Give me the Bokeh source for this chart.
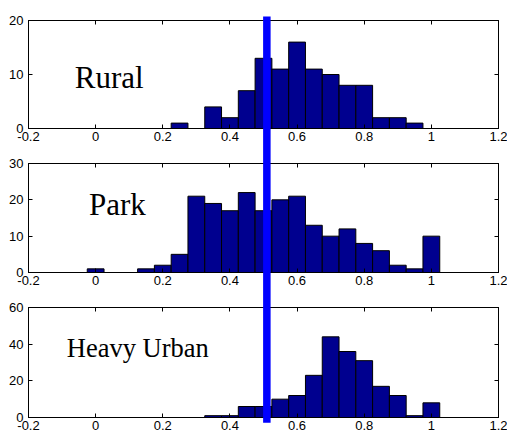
from bokeh.plotting import figure
from bokeh.layouts import column
from bokeh.models import Range1d, FixedTicker, LinearAxis, CustomJSTickFormatter
from bokeh.core.properties import value
from bokeh.embed import file_html
from bokeh.resources import INLINE

# ---------------- data ----------------
bin_width = 0.05

rural_centers = [0.25, 0.35, 0.40, 0.45, 0.50, 0.55, 0.60, 0.65, 0.70, 0.75, 0.80, 0.85, 0.90, 0.95]
rural_counts = [1, 4, 2, 7, 13, 11, 16, 11, 10, 8, 8, 2, 2, 1]

park_centers = [0.00, 0.15, 0.20, 0.25, 0.30, 0.35, 0.40, 0.45, 0.50, 0.55, 0.60, 0.65, 0.70, 0.75,
                0.80, 0.85, 0.90, 0.95, 1.00]
park_counts = [1, 1, 2, 5, 21, 19, 17, 22, 17, 20, 21, 13, 10, 12, 8, 6, 2, 1, 10]

urban_centers = [0.35, 0.40, 0.45, 0.50, 0.55, 0.60, 0.65, 0.70, 0.75, 0.80, 0.85, 0.90, 0.95, 1.00]
urban_counts = [1, 1, 6, 6, 10, 12, 23, 44, 36, 31, 17, 12, 1, 8]

x_ticks = [-0.2, 0.0, 0.2, 0.4, 0.6, 0.8, 1.0, 1.2]
x_tick_labels = ["-0.2", "0", "0.2", "0.4", "0.6", "0.8", "1", "1.2"]

rural_y_ticks = [0, 10, 20]
park_y_ticks = [0, 10, 20, 30]
urban_y_ticks = [0, 20, 40, 60]

panel_names = ["Rural", "Park", "Heavy Urban"]
threshold = 0.51

BAR_COLOR = "#00008F"
TICK_FONT = "Liberation Sans"
TICK_SIZE = "13px"

xfmt_code = """
const i = vals.findIndex(t => Math.abs(t - tick) < 1e-9);
return i >= 0 ? labs[i] : '';
"""


def style_axis(ax, show_labels=True):
    ax.axis_line_color = "black"
    ax.axis_line_width = 1
    ax.major_tick_line_color = "black"
    ax.major_tick_in = 4
    ax.major_tick_out = 0
    ax.minor_tick_line_color = None
    ax.major_label_text_font = TICK_FONT
    ax.major_label_text_font_size = TICK_SIZE
    ax.major_label_text_color = "black"
    if not show_labels:
        ax.major_label_text_font_size = "0px"
        ax.major_label_standoff = 0


def make_panel(centers, counts, yticks, name, lx, ly, fsize, height, btop, bbottom, ly0, ly1):
    p = figure(width=507, height=height, output_backend="svg", toolbar_location=None,
               x_range=Range1d(-0.2, 1.2), y_range=Range1d(yticks[0], yticks[-1]),
               min_border_left=28, min_border_right=9, min_border_top=btop,
               min_border_bottom=bbottom)
    p.grid.visible = False
    p.outline_line_color = "black"
    p.outline_line_alpha = 1
    p.background_fill_color = "white"
    p.border_fill_color = "white"

    left = [c - bin_width / 2 for c in centers]
    right = [c + bin_width / 2 for c in centers]
    p.quad(left=left, right=right, bottom=0, top=counts,
           fill_color=BAR_COLOR, line_color="black", line_width=1)

    p.text(x=[lx], y=[ly], text=[name], text_font=value("Liberation Serif"),
           text_font_size=value(fsize), text_color="black",
           text_align="left", text_baseline="alphabetic")

    xfmt = CustomJSTickFormatter(args=dict(vals=x_ticks, labs=x_tick_labels), code=xfmt_code)
    p.xaxis.ticker = FixedTicker(ticks=x_ticks)
    p.xaxis.formatter = xfmt
    p.yaxis.ticker = FixedTicker(ticks=yticks)
    for ax in p.xaxis:
        style_axis(ax)
        ax.major_label_standoff = 3
    for ax in p.yaxis:
        style_axis(ax)
        ax.major_label_standoff = 5

    top_ax = LinearAxis(ticker=FixedTicker(ticks=x_ticks),
                        formatter=CustomJSTickFormatter(code="return '';"))
    style_axis(top_ax, show_labels=False)
    p.add_layout(top_ax, "above")
    right_ax = LinearAxis(ticker=FixedTicker(ticks=yticks),
                          formatter=CustomJSTickFormatter(code="return '';"))
    style_axis(right_ax, show_labels=False)
    p.add_layout(right_ax, "right")

    seg = p.segment(x0=[threshold], y0=[ly0], x1=[threshold], y1=[ly1],
                    line_color="#0000FF", line_width=7.5, line_cap="butt")
    seg.level = "overlay"
    return p


p1 = make_panel(rural_centers, rural_counts, rural_y_ticks, panel_names[0],
                -0.062, 9.4, "31px", 146, 20, 18, -20, 20.75)
p2 = make_panel(park_centers, park_counts, park_y_ticks, panel_names[1],
                -0.02, 18.8, "31px", 144, 17, 18, -30, 60)
p3 = make_panel(urban_centers, urban_counts, urban_y_ticks, panel_names[2],
                -0.086, 37.8, "26.5px", 145, 17, 18, -2.9, 120)

layout = column(p1, p2, p3, spacing=0)

open("out.html", "w").write(file_html(layout, INLINE))
